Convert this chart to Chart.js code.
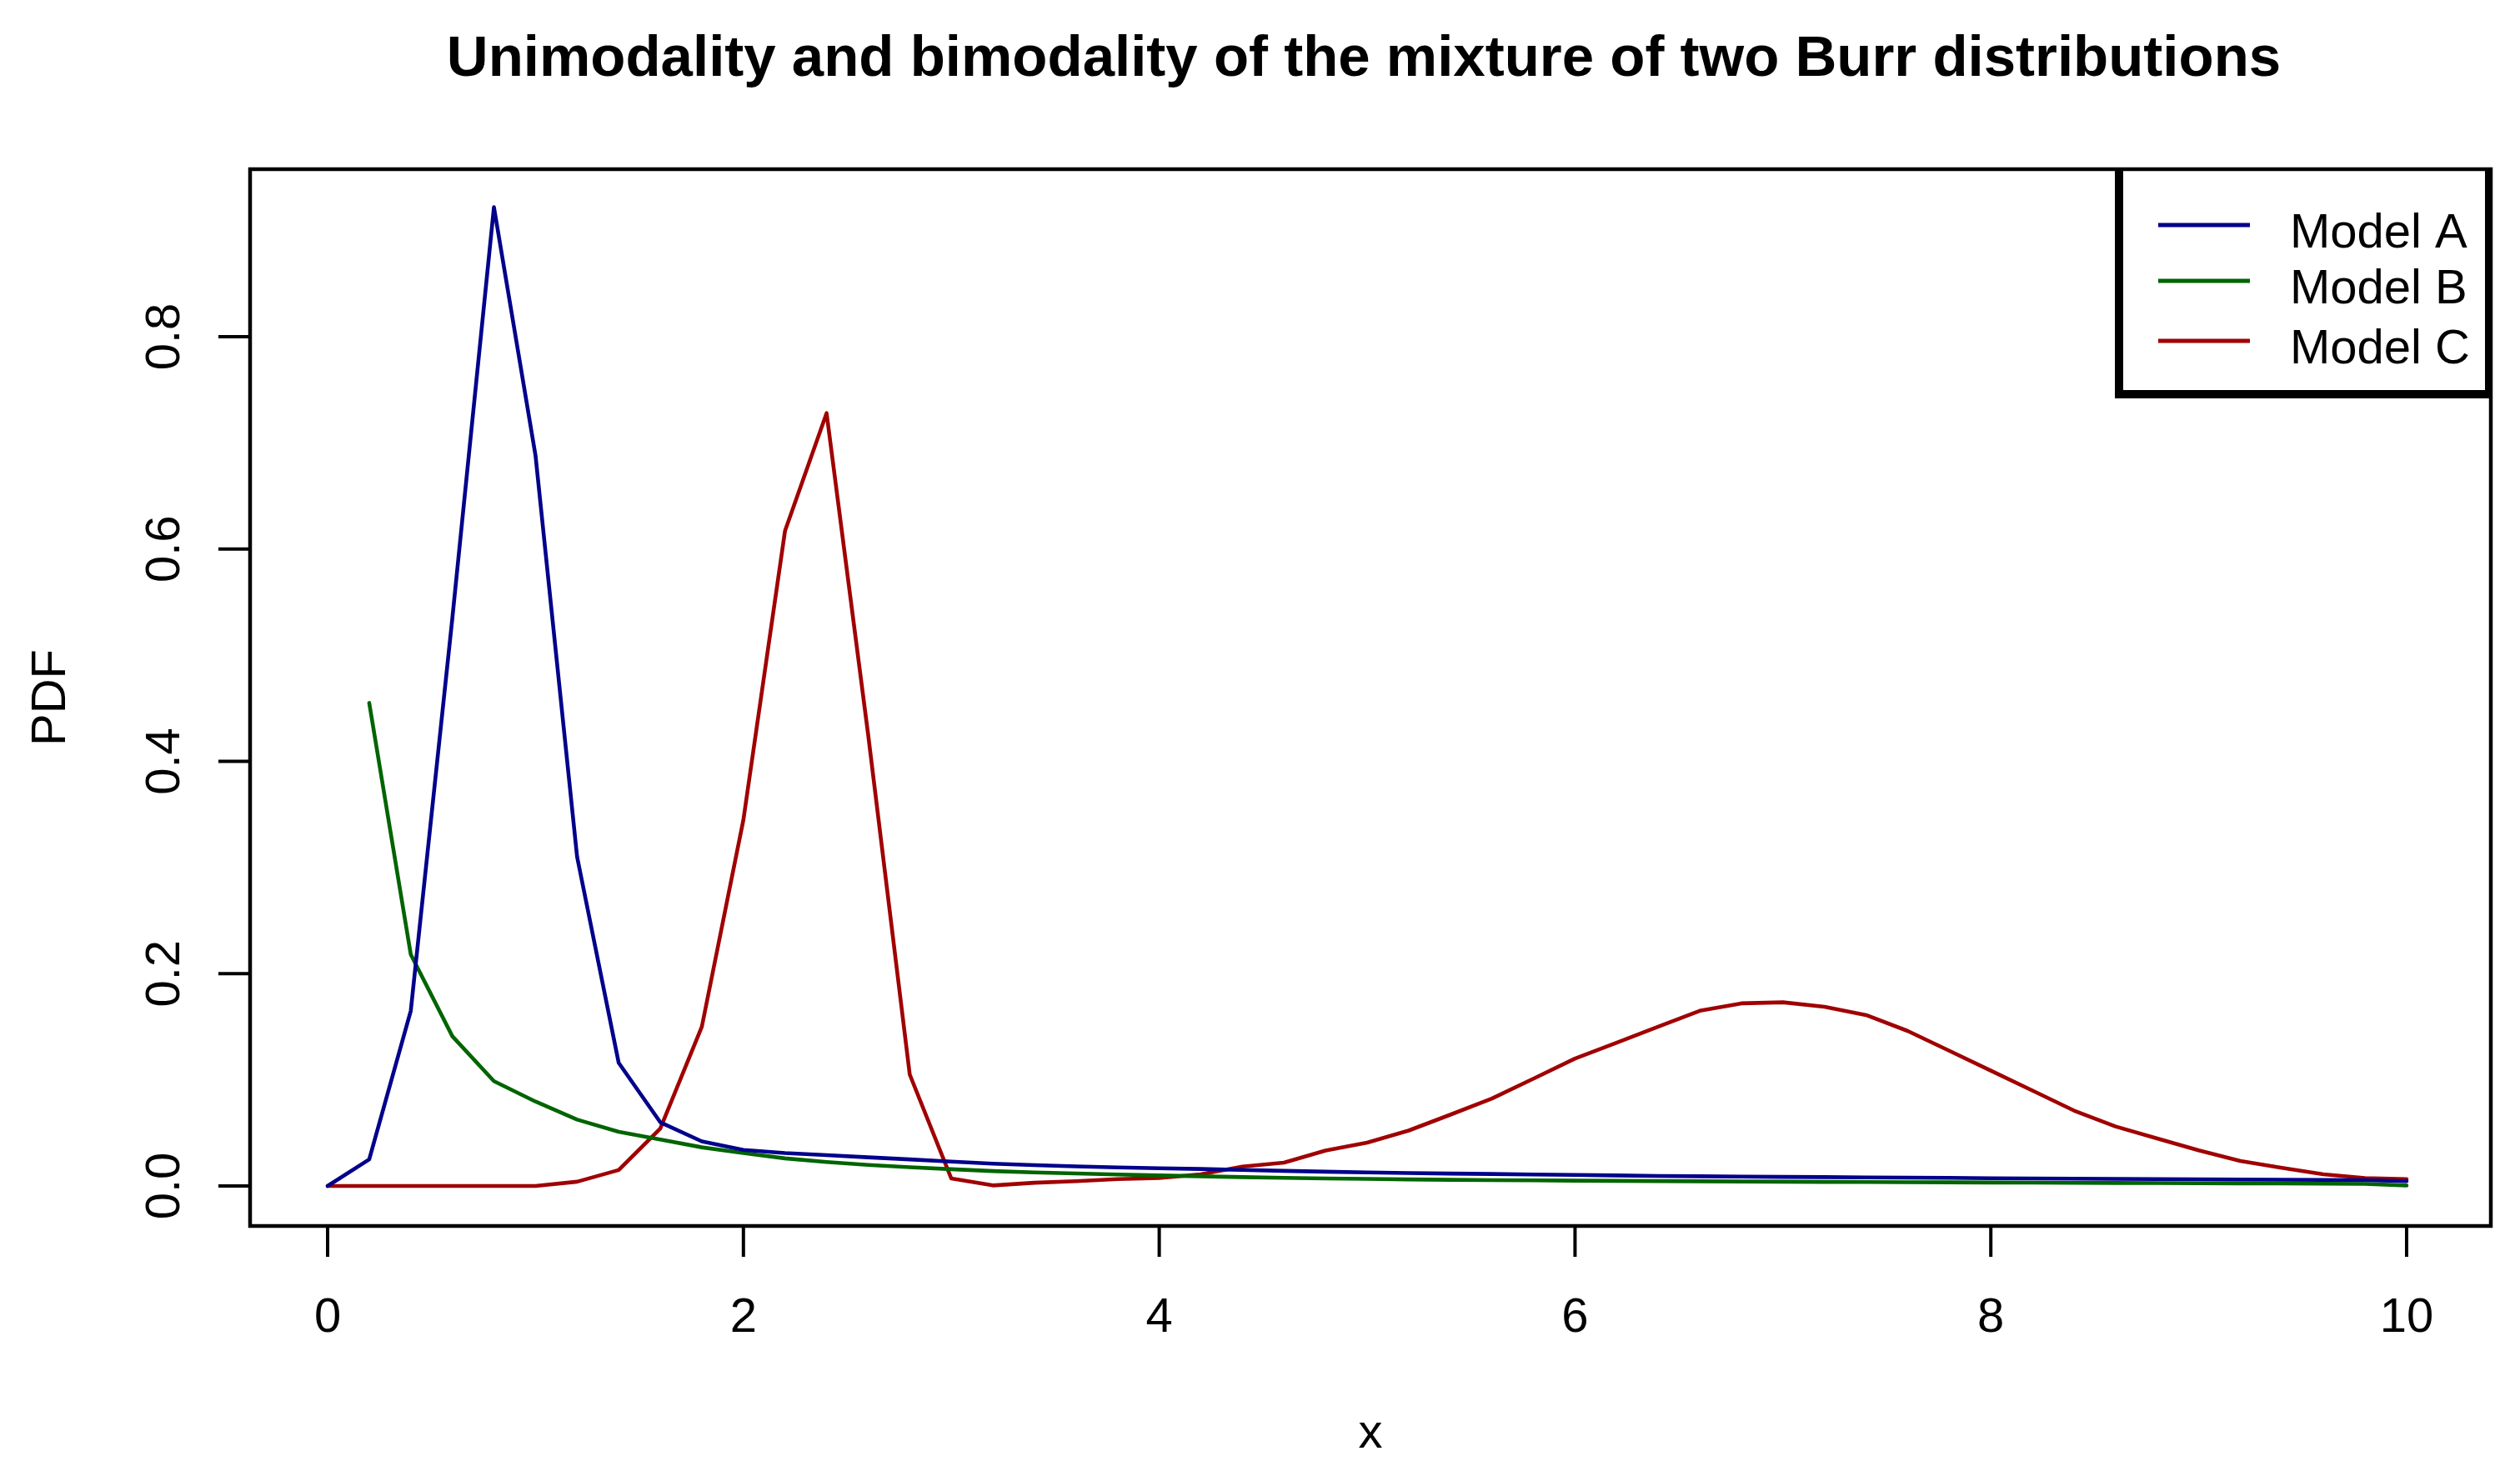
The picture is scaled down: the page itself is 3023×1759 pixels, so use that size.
<!DOCTYPE html>
<html>
<head>
<meta charset="utf-8">
<script src="https://cdn.jsdelivr.net/npm/chart.js@4"></script>
<style>
html,body{margin:0;padding:0;background:#ffffff;}
#wrap{width:3023px;height:1759px;position:relative;}
</style>
</head>
<body>
<div id="wrap"><canvas id="c" width="3023" height="1759"></canvas></div>
<script>
// ---------------- data ----------------
const xValues = [0, 0.2, 0.4, 0.6, 0.8, 1.0, 1.2, 1.4, 1.6, 1.8,
                 2.0, 2.2, 2.4, 2.6, 2.8, 3.0, 3.2, 3.4, 3.6, 3.8,
                 4.0, 4.2, 4.4, 4.6, 4.8, 5.0, 5.2, 5.4, 5.6, 5.8,
                 6.0, 6.2, 6.4, 6.6, 6.8, 7.0, 7.2, 7.4, 7.6, 7.8,
                 8.0, 8.2, 8.4, 8.6, 8.8, 9.0, 9.2, 9.4, 9.6, 9.8, 10.0];

const modelA = [0, 0.025, 0.165, 0.535, 0.922, 0.688, 0.31, 0.116, 0.060, 0.042,
                0.034, 0.031, 0.029, 0.027, 0.025, 0.023, 0.021, 0.0196, 0.0184, 0.0175,
                0.0167, 0.0160, 0.0151, 0.0142, 0.0134, 0.0127, 0.0122, 0.0117, 0.0113, 0.0108,
                0.0104, 0.0099, 0.0094, 0.0091, 0.0088, 0.0085, 0.0083, 0.0080, 0.0078, 0.0076,
                0.0073, 0.0071, 0.0069, 0.0067, 0.0065, 0.0063, 0.0061, 0.0059, 0.0057, 0.0055, 0.0045];

const modelB = [null, 0.455, 0.218, 0.141, 0.0987, 0.0795, 0.0625, 0.051, 0.0437, 0.0364,
                0.031, 0.026, 0.0225, 0.0198, 0.0177, 0.0158, 0.0140, 0.0128, 0.0118, 0.0108,
                0.0099, 0.0091, 0.0083, 0.0076, 0.0070, 0.0066, 0.0062, 0.0058, 0.0055, 0.0053,
                0.0050, 0.0048, 0.0046, 0.0044, 0.0042, 0.0040, 0.0038, 0.0037, 0.0035, 0.0034,
                0.0032, 0.0031, 0.0029, 0.0028, 0.0027, 0.0025, 0.0024, 0.0023, 0.0021, 0.0019, 0.0005];

const modelC = [0, 0, 0, 0, 0, 0, 0.004, 0.015, 0.054, 0.15,
                0.345, 0.617, 0.728, 0.425, 0.105, 0.007, 0.0005, 0.003, 0.0045, 0.0065,
                0.0075, 0.011, 0.0183, 0.022, 0.0334, 0.0408, 0.0522, 0.0671, 0.0823, 0.1011,
                0.120, 0.135, 0.150, 0.165, 0.172, 0.173, 0.1688, 0.161, 0.146, 0.1274,
                0.1086, 0.0899, 0.071, 0.056, 0.0447, 0.0335, 0.0235, 0.017, 0.011, 0.0075, 0.0065];

const seriesNames  = ["Model A", "Model B", "Model C"];
const seriesColors = ["#00008B", "#006400", "#A00000"];

const xTicks      = [0, 2, 4, 6, 8, 10];
const xTickLabels = ["0", "2", "4", "6", "8", "10"];
const yTicks      = [0, 0.2, 0.4, 0.6, 0.8];
const yTickLabels = ["0.0", "0.2", "0.4", "0.6", "0.8"];

const titleText = "Unimodality and bimodality of the mixture of two Burr distributions";
const xTitle = "x";
const yTitle = "PDF";

// ---------------- chart ----------------
const FONT = '"Liberation Sans", Arial, Helvetica, sans-serif';
const seriesValues = [modelA, modelB, modelC];

const datasets = seriesValues.map((vals, i) => ({
  label: seriesNames[i],
  data: xValues.map((x, j) => ({ x: x, y: vals[j] })),
  borderColor: seriesColors[i],
  backgroundColor: seriesColors[i],
  borderWidth: 4.6,
  pointRadius: 0,
  tension: 0,
  fill: false,
  spanGaps: false,
  borderCapStyle: 'round',
  borderJoinStyle: 'round'
}));

const rStyle = {
  id: 'rStyle',
  beforeDraw(chart) {
    const c = chart.ctx;
    c.save();
    c.fillStyle = '#ffffff';
    c.fillRect(0, 0, chart.width, chart.height);
    c.restore();
  },
  afterDraw(chart) {
    const c = chart.ctx, ca = chart.chartArea;
    const xs = chart.scales.x, ys = chart.scales.y;
    c.save();
    c.strokeStyle = '#000'; c.fillStyle = '#000';

    // box
    c.lineWidth = 4.5;
    c.strokeRect(ca.left, ca.top, ca.right - ca.left, ca.bottom - ca.top);

    // ticks
    c.lineWidth = 4;
    c.beginPath();
    xTicks.forEach(v => {
      const px = xs.getPixelForValue(v);
      c.moveTo(px, ca.bottom); c.lineTo(px, ca.bottom + 37);
    });
    yTicks.forEach(v => {
      const py = ys.getPixelForValue(v);
      c.moveTo(ca.left, py); c.lineTo(ca.left - 38, py);
    });
    c.stroke();

    // tick labels
    c.font = '58px ' + FONT;
    c.textAlign = 'center'; c.textBaseline = 'alphabetic';
    xTicks.forEach((v, i) => c.fillText(xTickLabels[i], xs.getPixelForValue(v), ca.bottom + 127));
    yTicks.forEach((v, i) => {
      c.save();
      c.translate(ca.left - 85, ys.getPixelForValue(v));
      c.rotate(-Math.PI / 2);
      c.fillText(yTickLabels[i], 0, 0);
      c.restore();
    });

    // axis titles
    const cx = (ca.left + ca.right) / 2, cy = (ca.top + ca.bottom) / 2;
    c.fillText(xTitle, cx, ca.bottom + 266);
    c.save();
    c.translate(ca.left - 222, cy);
    c.rotate(-Math.PI / 2);
    c.fillText(yTitle, 0, 0);
    c.restore();

    // main title
    c.font = 'bold 69px ' + FONT;
    c.fillText(titleText, cx - 8, 91);

    // legend box
    const lgLeft = ca.right - 451, lgBottom = ca.top + 275;
    c.fillStyle = '#000';
    c.fillRect(lgLeft, ca.top, 10, lgBottom - ca.top);
    c.fillRect(lgLeft, lgBottom - 10, ca.right + 2 - lgLeft, 10);
    c.fillRect(ca.right - 7, ca.top, 9, lgBottom - ca.top);

    const rowY = [67, 134, 206];
    c.font = '58px ' + FONT;
    c.textAlign = 'left';
    seriesNames.forEach((name, i) => {
      const y = ca.top + rowY[i];
      c.strokeStyle = seriesColors[i];
      c.lineWidth = 5;
      c.beginPath();
      c.moveTo(ca.right - 399, y); c.lineTo(ca.right - 289, y);
      c.stroke();
      c.fillStyle = '#000';
      c.fillText(name, ca.right - 241, y + 27);
    });
    c.restore();
  }
};

new Chart(document.getElementById('c'), {
  type: 'line',
  data: { datasets: datasets },
  options: {
    responsive: false,
    animation: false,
    devicePixelRatio: 1,
    layout: { padding: { left: 300, top: 203, right: 35, bottom: 288 } },
    scales: {
      x: { type: 'linear', min: -0.373, max: 10.405, display: false },
      y: { type: 'linear', min: -0.0377, max: 0.9578, display: false }
    },
    plugins: {
      legend: { display: false },
      title: { display: false },
      tooltip: { enabled: false }
    }
  },
  plugins: [rStyle]
});
</script>
</body>
</html>
